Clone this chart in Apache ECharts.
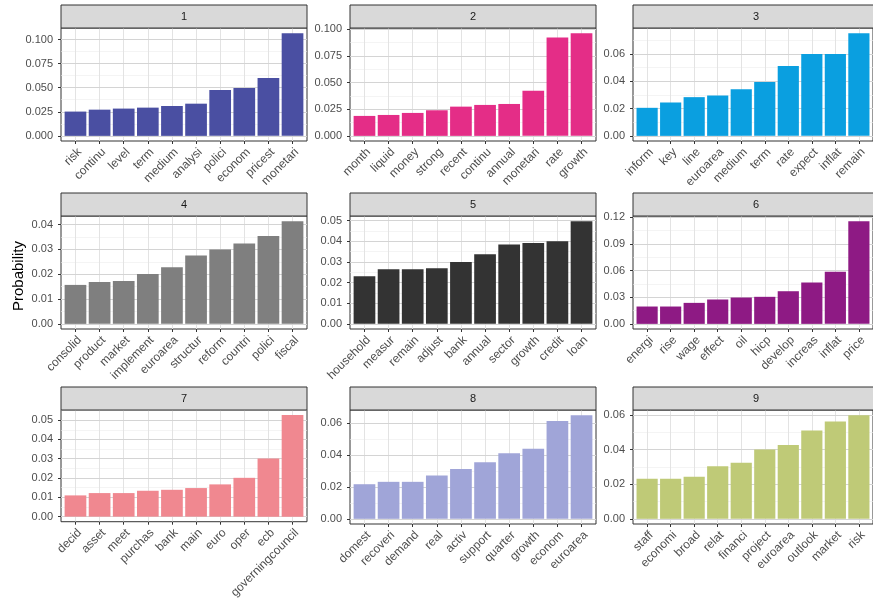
<!DOCTYPE html>
<html><head><meta charset="utf-8">
<script src="https://cdn.jsdelivr.net/npm/echarts@6/dist/echarts.min.js"></script>
<style>html,body{margin:0;padding:0;background:#fff}#c{width:873px;height:601px}</style>
</head><body><div id="c"></div>
<script>
// ---- data ----
const panelTitles = ["1","2","3","4","5","6","7","8","9"];

const cats1 = ["risk","continu","level","term","medium","analysi","polici","econom","pricest","monetari"];
const vals1 = [0.0252,0.0272,0.0283,0.0293,0.0310,0.0334,0.0476,0.0497,0.0600,0.1066];
const ticks1 = ["0.000","0.025","0.050","0.075","0.100"];

const cats2 = ["month","liquid","money","strong","recent","continu","annual","monetari","rate","growth"];
const vals2 = [0.0187,0.0196,0.0215,0.0240,0.0274,0.0290,0.0299,0.0424,0.0922,0.0963];
const ticks2 = ["0.000","0.025","0.050","0.075","0.100"];

const cats3 = ["inform","key","line","euroarea","medium","term","rate","expect","inflat","remain"];
const vals3 = [0.0205,0.0244,0.0283,0.0295,0.0341,0.0393,0.0510,0.0598,0.0598,0.0751];
const ticks3 = ["0.00","0.02","0.04","0.06"];

const cats4 = ["consolid","product","market","implement","euroarea","structur","reform","countri","polici","fiscal"];
const vals4 = [0.0157,0.0169,0.0173,0.0201,0.0228,0.0276,0.0300,0.0324,0.0354,0.0414];
const ticks4 = ["0.00","0.01","0.02","0.03","0.04"];

const cats5 = ["household","measur","remain","adjust","bank","annual","sector","growth","credit","loan"];
const vals5 = [0.0231,0.0265,0.0265,0.0270,0.0300,0.0338,0.0385,0.0392,0.0400,0.0498];
const ticks5 = ["0.00","0.01","0.02","0.03","0.04","0.05"];

const cats6 = ["energi","rise","wage","effect","oil","hicp","develop","increas","inflat","price"];
const vals6 = [0.0195,0.0195,0.0236,0.0274,0.0296,0.0304,0.0367,0.0465,0.0585,0.1155];
const ticks6 = ["0.00","0.03","0.06","0.09","0.12"];

const cats7 = ["decid","asset","meet","purchas","bank","main","euro","oper","ecb","governingcouncil"];
const vals7 = [0.0110,0.0122,0.0122,0.0134,0.0139,0.0148,0.0167,0.0201,0.0301,0.0526];
const ticks7 = ["0.00","0.01","0.02","0.03","0.04","0.05"];

const cats8 = ["domest","recoveri","demand","real","activ","support","quarter","growth","econom","euroarea"];
const vals8 = [0.0217,0.0232,0.0232,0.0272,0.0312,0.0355,0.0412,0.0439,0.0613,0.0650];
const ticks8 = ["0.00","0.02","0.04","0.06"];

const cats9 = ["staff","economi","broad","relat","financi","project","euroarea","outlook","market","risk"];
const vals9 = [0.0232,0.0232,0.0243,0.0305,0.0324,0.0401,0.0428,0.0511,0.0563,0.0600];
const ticks9 = ["0.00","0.02","0.04","0.06"];

const colors = ["#4a4fa2","#e42d87","#0a9fe0","#7f7f7f","#333333","#8e1a84","#f08890","#a0a5d8","#bfca77"];
const yTitle = "Probability";

// ---- build ----
const cats = [cats1,cats2,cats3,cats4,cats5,cats6,cats7,cats8,cats9];
const vals = [vals1,vals2,vals3,vals4,vals5,vals6,vals7,vals8,vals9];
const ticks = [ticks1,ticks2,ticks3,ticks4,ticks5,ticks6,ticks7,ticks8,ticks9];

const FONT = "'Liberation Sans', Arial, sans-serif";
const colLeft = [61, 350, 633], W = 246;
const rowTop = [28, 216, 410], H = [113, 113, 114], stripH = 23;

const grids = [], xAxes = [], yAxes = [], series = [], graphics = [];
for (let i = 0; i < 9; i++) {
  const r = Math.floor(i / 3), c = i % 3;
  grids.push({left: colLeft[c], top: rowTop[r], width: W, height: H[r], show: true,
    borderColor: '#333', borderWidth: 1, backgroundColor: '#fff', containLabel: false});
  const maxV = Math.max(...vals[i]);
  const lo = -0.05 * maxV, hi = 1.05 * maxV;
  const major = ticks[i].map(Number);
  const step = major[1] - major[0];
  const minor = [];
  for (let k = 0; k < major.length; k++) { const m = major[k] + step / 2; if (m <= hi) minor.push(m); }
  const n = cats[i].length;
  const idx = cats[i].map((_, k) => k + 1);
  xAxes.push({type: 'value', gridIndex: i, min: 0.4, max: n + 0.6,
    axisLine: {show: false, onZero: false},
    axisTick: {show: true, length: 3, customValues: idx, lineStyle: {color: '#333'}},
    axisLabel: {customValues: idx, rotate: 45, margin: 5, verticalAlign: 'top', color: '#4d4d4d', fontSize: 12, fontFamily: FONT,
      formatter: v => cats[i][Math.round(v) - 1]},
    splitLine: {show: true, lineStyle: {color: '#e3e3e3', width: 1}}});
  yAxes.push({type: 'value', gridIndex: i, min: lo, max: hi,
    axisLine: {show: false, onZero: false},
    axisTick: {show: true, length: 3, customValues: major, lineStyle: {color: '#333'}},
    axisLabel: {customValues: major, margin: 8, color: '#4d4d4d', fontSize: 11, fontFamily: FONT,
      formatter: v => { const j = major.findIndex(m => Math.abs(m - v) < 1e-9); return j >= 0 ? ticks[i][j] : ''; }},
    splitLine: {show: true, lineStyle: {color: '#d4d4d4', width: 1}}, z: 1});
  yAxes.push({type: 'value', gridIndex: i, min: lo, max: hi,
    axisLine: {show: false, onZero: false},
    axisTick: {show: false, customValues: minor},
    axisLabel: {show: false, customValues: minor},
    splitLine: {show: true, lineStyle: {color: '#ededed', width: 0.6}}, z: 0});
  series.push({type: 'bar', xAxisIndex: i, yAxisIndex: 2 * i, barWidth: '90%',
    itemStyle: {color: colors[i]},
    data: vals[i].map((v, k) => [k + 1, v])});
  graphics.push({type: 'rect', shape: {x: colLeft[c], y: rowTop[r] - stripH, width: W, height: stripH},
    style: {fill: '#d9d9d9', stroke: '#333', lineWidth: 1}, z: 10});
  graphics.push({type: 'text', x: colLeft[c] + W / 2, y: rowTop[r] - stripH / 2,
    style: {text: panelTitles[i], fill: '#1a1a1a', fontSize: 11, fontFamily: FONT, align: 'center', verticalAlign: 'middle'}, z: 11});
}
graphics.push({type: 'text', x: 19, y: 276, rotation: Math.PI / 2,
  style: {text: yTitle, fill: '#000', fontSize: 15, fontFamily: FONT, align: 'center', verticalAlign: 'middle'}});

const chart = echarts.init(document.getElementById('c'));
chart.setOption({animation: false, backgroundColor: '#fff', grid: grids, xAxis: xAxes, yAxis: yAxes, series: series, graphic: graphics});
</script></body></html>
